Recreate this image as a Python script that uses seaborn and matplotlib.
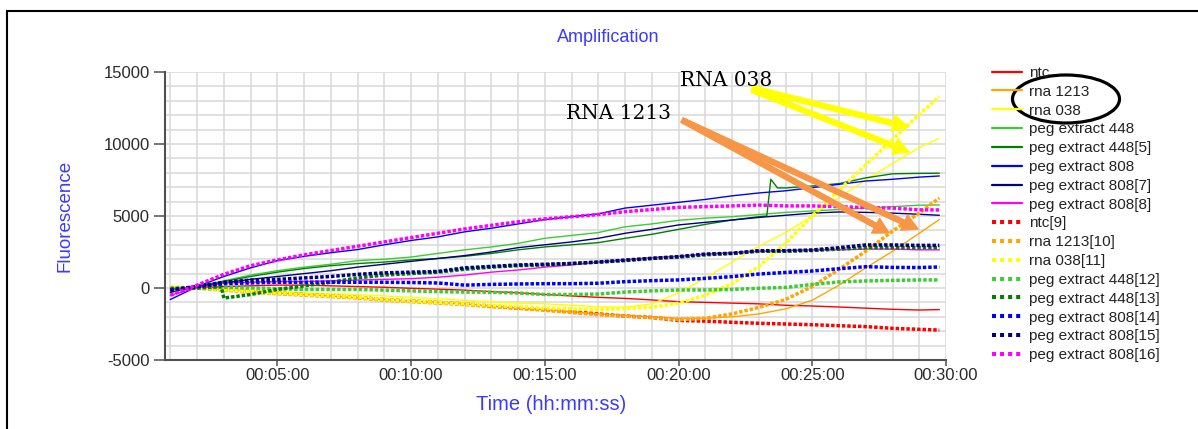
import matplotlib
matplotlib.use("Agg")
import matplotlib.pyplot as plt
import seaborn as sns
from matplotlib.lines import Line2D
from matplotlib.patches import Ellipse, Rectangle, FancyArrowPatch
from matplotlib.ticker import MultipleLocator, FixedLocator, FuncFormatter

# ---------------- data (minutes, fluorescence) ----------------
minutes = [1, 2, 3, 4, 5, 6, 7, 8, 9, 10, 11, 12, 13, 14, 15, 16, 17, 18, 19, 20,
           21, 22, 23, 24, 25, 26, 27, 28, 29, 29.75]

ntc = [0, 0, 100, 150, 200, 200, 150, 100, 50, -20, -80, -150, -250, -330, -450, -550,
       -650, -720, -830, -950, -1000, -1050, -1100, -1200, -1250, -1320, -1400, -1480, -1530, -1500]
rna_1213 = [0, 0, -100, -200, -350, -450, -550, -700, -800, -900, -1000, -1100, -1250, -1400, -1500,
            -1650, -1800, -1900, -2000, -2100, -2100, -2000, -1800, -1450, -850, 200, 1400, 2550, 3800, 4750]
rna_038 = [100, 0, -100, -150, -250, -350, -400, -450, -550, -650, -750, -850, -950, -1050, -1100,
           -1200, -1300, -1340, -1100, -350, 700, 1800, 2900, 3850, 5000, 6300, 7500, 8650, 9750, 10400]
peg_448 = [-100, 100, 500, 900, 1200, 1450, 1650, 1900, 2000, 2150, 2400, 2650, 2850, 3100, 3450,
           3650, 3850, 4250, 4450, 4700, 4850, 4950, 5100, 5250, 5350, 5450, 5550, 5650, 5750, 5770]
minutes_448_5 = [1, 2, 3, 4, 5, 6, 7, 8, 9, 10, 11, 12, 13, 14, 15, 16, 17, 18, 19, 20, 21, 22, 23,
                 23.3, 23.45, 23.7, 24, 25, 26, 27, 28, 29, 29.75]
peg_448_5 = [-100, 100, 450, 800, 1100, 1350, 1550, 1700, 1800, 1950, 2050, 2200, 2400, 2650, 2850,
             3000, 3150, 3450, 3730, 4070, 4420, 4720, 4950, 5000, 7550, 6950, 6950, 7080, 7250, 7650,
             7930, 7960, 7970]
peg_808 = [-800, 100, 800, 1400, 1900, 2200, 2450, 2670, 3000, 3300, 3550, 3900, 4150, 4450, 4750,
           4950, 5150, 5550, 5750, 5950, 6150, 6400, 6600, 6750, 6970, 7200, 7430, 7550, 7700, 7780]
peg_808_7 = [-300, 100, 350, 600, 800, 1000, 1200, 1450, 1650, 1850, 2050, 2250, 2500, 2800, 3000,
             3200, 3450, 3800, 4070, 4380, 4560, 4720, 4900, 5050, 5200, 5280, 5250, 5200, 5120, 5050]
peg_808_8 = [-500, 0, 350, 400, 450, 450, 500, 550, 600, 650, 750, 900, 1100, 1250, 1450, 1600, 1800,
             1950, 2100, 2200, 2350, 2450, 2550, 2600, 2650, 2650, 2700, 2700, 2650, 2650]
ntc_9 = [0, 0, -100, -250, -350, -450, -550, -650, -800, -900, -1000, -1100, -1250, -1400, -1500,
         -1650, -1800, -1950, -2050, -2250, -2300, -2380, -2450, -2500, -2550, -2620, -2680, -2800, -2870, -2920]
rna_1213_10 = [0, 0, -150, -300, -400, -500, -600, -700, -850, -950, -1050, -1150, -1300, -1400, -1550,
               -1700, -1850, -1950, -2050, -2200, -2100, -1800, -1350, -800, 100, 1300, 2550, 3950, 5200, 6250]
rna_038_11 = [100, 0, -100, -250, -350, -450, -550, -650, -800, -900, -1000, -1100, -1200, -1300, -1400,
              -1450, -1500, -1420, -1340, -1060, -500, 300, 1500, 3100, 5000, 6800, 8550, 10300, 12050, 13300]
peg_448_12 = [0, 0, 50, 0, -50, -100, -100, -100, -150, -200, -250, -280, -300, -350, -450, -450, -420,
              -280, -200, -140, -140, -100, -20, 40, 250, 420, 490, 530, 560, 560]
minutes_448_13 = [1, 2, 2.9, 3, 4, 5, 6, 7, 8, 9, 10, 11, 12, 13, 14, 15, 16, 17, 18, 19, 20, 21, 22,
                  23, 24, 25, 26, 27, 28, 29, 29.75]
peg_448_13 = [-100, 0, 100, -700, -450, -100, 150, 400, 700, 900, 1000, 1100, 1300, 1450, 1550, 1600,
              1700, 1800, 1900, 2050, 2150, 2300, 2400, 2550, 2550, 2600, 2700, 2800, 2800, 2800, 2800]
peg_808_14 = [-100, 100, 300, 350, 400, 400, 400, 400, 400, 380, 350, 200, 250, 280, 300, 300, 330, 440,
              510, 560, 670, 790, 970, 1080, 1180, 1340, 1480, 1430, 1420, 1460]
peg_808_15 = [-200, 100, 400, 550, 600, 700, 800, 950, 1050, 1100, 1150, 1400, 1500, 1600, 1650, 1700,
              1800, 1940, 2060, 2180, 2360, 2410, 2590, 2590, 2640, 2800, 2990, 2990, 2960, 2960]
peg_808_16 = [-500, 200, 950, 1550, 1950, 2300, 2600, 2900, 3200, 3500, 3800, 4100, 4350, 4600, 4800,
              4950, 5100, 5300, 5450, 5600, 5650, 5700, 5760, 5700, 5700, 5650, 5580, 5550, 5430, 5420]

labels = ["ntc", "rna 1213", "rna 038", "peg extract 448", "peg extract 448[5]", "peg extract 808",
          "peg extract 808[7]", "peg extract 808[8]", "ntc[9]", "rna 1213[10]", "rna 038[11]",
          "peg extract 448[12]", "peg extract 448[13]", "peg extract 808[14]", "peg extract 808[15]",
          "peg extract 808[16]"]
colors = ["#ff0000", "#ffa500", "#ffff00", "#3ccd32", "#008000", "#0000ff", "#000080", "#ff00ff"] * 2
times = [minutes, minutes, minutes, minutes, minutes_448_5, minutes, minutes, minutes,
         minutes, minutes, minutes, minutes, minutes_448_13, minutes, minutes, minutes]
values = [ntc, rna_1213, rna_038, peg_448, peg_448_5, peg_808, peg_808_7, peg_808_8,
          ntc_9, rna_1213_10, rna_038_11, peg_448_12, peg_448_13, peg_808_14, peg_808_15, peg_808_16]
dotted = [False] * 8 + [True] * 8

# ---------------- style ----------------
sns.set_theme(style="white")
plt.rcParams['font.family'] = ['Liberation Sans', 'DejaVu Sans']
plt.rcParams['axes.unicode_minus'] = False

W, H = 1198, 429
fig = plt.figure(figsize=(W / 100, H / 100), dpi=100)
ax = fig.add_axes([165 / W, 69 / H, 781 / W, 288 / H])

for t, v, c, d in zip(times, values, colors, dotted):
    if d:
        sns.lineplot(x=t, y=v, ax=ax, color=c, linewidth=2.5, linestyle=(0, (1.0, 0.55)),
                     estimator=None, sort=False, legend=False)
    else:
        sns.lineplot(x=t, y=v, ax=ax, color=c, linewidth=1.0,
                     estimator=None, sort=False, legend=False)

ax.set_xlim(0.8, 30)
ax.set_ylim(-5000, 15000)
ax.xaxis.set_major_locator(FixedLocator([5, 10, 15, 20, 25, 30]))
ax.xaxis.set_minor_locator(MultipleLocator(1))
ax.yaxis.set_major_locator(FixedLocator([-5000, 0, 5000, 10000, 15000]))
ax.yaxis.set_minor_locator(MultipleLocator(1000))
ax.xaxis.set_major_formatter(FuncFormatter(lambda v, p: f"00:{int(round(v)):02d}:00"))
ax.yaxis.set_major_formatter(FuncFormatter(lambda v, p: f"{int(v)}"))
ax.set_axisbelow(True)
ax.grid(which='both', color='#d9d9d9', linewidth=1.1)
ax.tick_params(which='minor', length=0)
ax.tick_params(axis='y', which='major', direction='out', length=8, width=1.1, color='#505050',
               labelsize=12, labelcolor='#2a2a2a', pad=3, left=True)
ax.tick_params(axis='x', which='major', direction='out', length=4, width=1.1, color='#505050',
               labelsize=12, labelcolor='#2a2a2a', pad=2, bottom=True)
for s in ['top', 'right']:
    ax.spines[s].set_visible(False)
for s in ['left', 'bottom']:
    ax.spines[s].set_color('#505050')
    ax.spines[s].set_linewidth(1.5)
ax.set_xlabel("")
ax.set_ylabel("")

blue = '#3a3aff'
fig.text(608 / W, 1 - 42 / H, "Amplification", ha='center', va='baseline', color=blue, fontsize=13)
fig.text(65 / W, 1 - 216 / H, "Fluorescence", ha='center', va='center', rotation=90, color=blue,
         fontsize=13.5)
fig.text(551.5 / W, 1 - 410 / H, "Time (hh:mm:ss)", ha='center', va='baseline', color=blue,
         fontsize=14.5)

# legend
handles = []
for c, d in zip(colors, dotted):
    if d:
        handles.append(Line2D([], [], color=c, linewidth=2.9, linestyle=(0, (1, 1))))
    else:
        handles.append(Line2D([], [], color=c, linewidth=1.6))
fig.legend(handles, labels, loc='upper left', bbox_to_anchor=(992 / W, 1 - 66 / H),
           bbox_transform=fig.transFigure, frameon=False, fontsize=11, handlelength=1.95,
           handletextpad=0.45, labelspacing=0.315, borderpad=0, borderaxespad=0,
           labelcolor='#222222')

# annotations
fig.text(680 / W, 1 - 86 / H, "RNA 038", family='DejaVu Serif', fontsize=14.5, va='baseline', color='black')
fig.text(566 / W, 1 - 119 / H, "RNA 1213", family='DejaVu Serif', fontsize=14.5, va='baseline', color='black')

def arrow(p0, p1, color):
    a = FancyArrowPatch((p0[0] / W, 1 - p0[1] / H), (p1[0] / W, 1 - p1[1] / H),
                        transform=fig.transFigure,
                        arrowstyle='simple,head_length=1.1,head_width=1.2,tail_width=0.36',
                        mutation_scale=10, color=color, shrinkA=0, shrinkB=0)
    fig.add_artist(a)

arrow((752, 88), (908, 127), '#ffff00')
arrow((752, 90), (909, 152), '#ffff00')
arrow((682, 120), (889, 233), '#f79646')
arrow((684, 121), (918, 229), '#f79646')

fig.add_artist(Ellipse((1066 / W, 1 - 99 / H), 107 / W, 48 / H, transform=fig.transFigure,
                       fill=False, edgecolor='black', linewidth=2.3))
fig.add_artist(Rectangle((7 / W, -0.1), 1.2, (1 - 11 / H) + 0.1, transform=fig.transFigure,
                         fill=False, edgecolor='black', linewidth=1.5))

fig.savefig('out.png', dpi=100)
